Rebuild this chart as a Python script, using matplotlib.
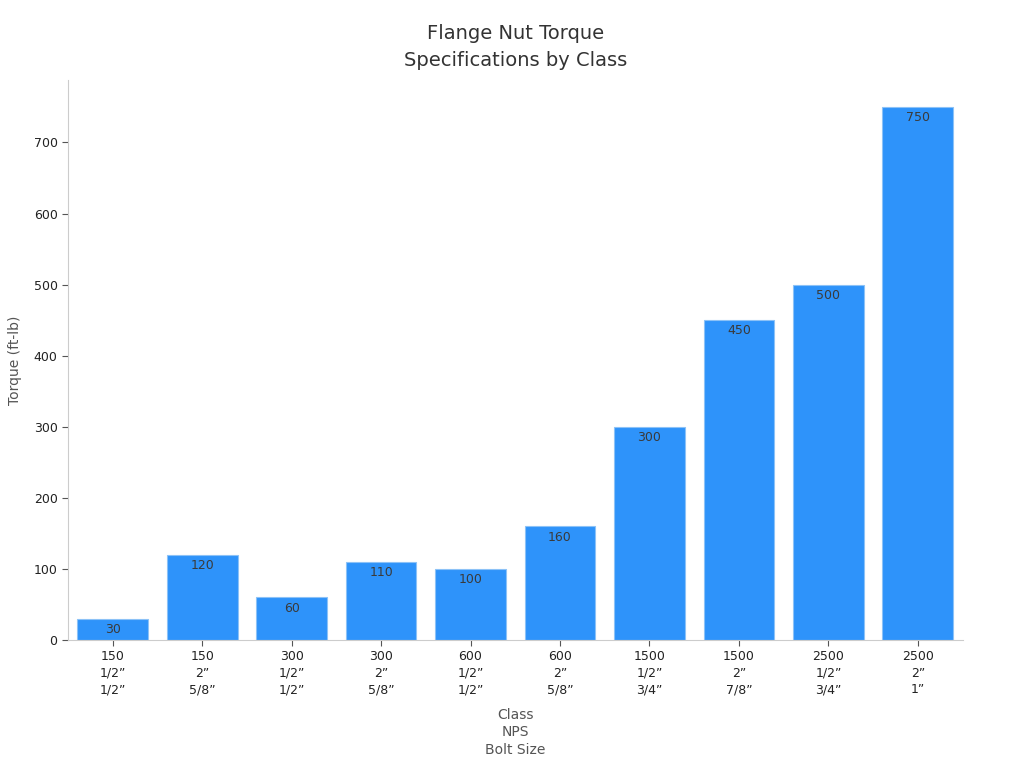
import matplotlib
matplotlib.use("Agg")
import matplotlib.pyplot as plt

classes = ["150", "150", "300", "300", "600", "600", "1500", "1500", "2500", "2500"]
nps = ["1/2”", "2”", "1/2”", "2”", "1/2”", "2”", "1/2”", "2”", "1/2”", "2”"]
bolt_sizes = ["1/2”", "5/8”", "1/2”", "5/8”", "1/2”", "5/8”", "3/4”", "7/8”", "3/4”", "1”"]
torque = [30, 120, 60, 110, 100, 160, 300, 450, 500, 750]

plt.rcParams['font.family'] = ['DejaVu Sans']
fig = plt.figure(figsize=(10.24, 7.68), dpi=100)
ax = fig.add_axes([0.0664, 0.1667, 0.8736, 0.7293])

x = list(range(len(torque)))
bars = ax.bar(x, torque, width=0.79, color="#2E93FA", edgecolor="#8CC2F7", linewidth=0.8)
for xi, v in zip(x, torque):
    ax.text(xi, v - 6, str(v), ha="center", va="top", fontsize=9, color="#3a3a3a")

ax.set_xlim(-0.5, len(torque) - 0.5)
ax.set_ylim(0, 788)
ax.set_xticks(x)
ax.set_xticklabels([f"{c}\n{n}\n{b}" for c, n, b in zip(classes, nps, bolt_sizes)],
                   fontsize=9, color="#222222", linespacing=1.35)
ax.set_yticks([0, 100, 200, 300, 400, 500, 600, 700])
ax.tick_params(axis="y", labelsize=9, colors="#222222", length=4, color="#555555")
ax.tick_params(axis="x", length=4, color="#555555")
for s in ["top", "right"]:
    ax.spines[s].set_visible(False)
for s in ["left", "bottom"]:
    ax.spines[s].set_color("#cccccc")

ax.set_xlabel("Class\nNPS\nBolt Size", fontsize=10, color="#555555", labelpad=8, linespacing=1.35)
ax.set_ylabel("Torque (ft-lb)", fontsize=10, color="#555555", labelpad=8)
ax.set_title("Flange Nut Torque\nSpecifications by Class", fontsize=14, color="#333333",
             pad=10, linespacing=1.5)

fig.savefig("out.png", dpi=100)
